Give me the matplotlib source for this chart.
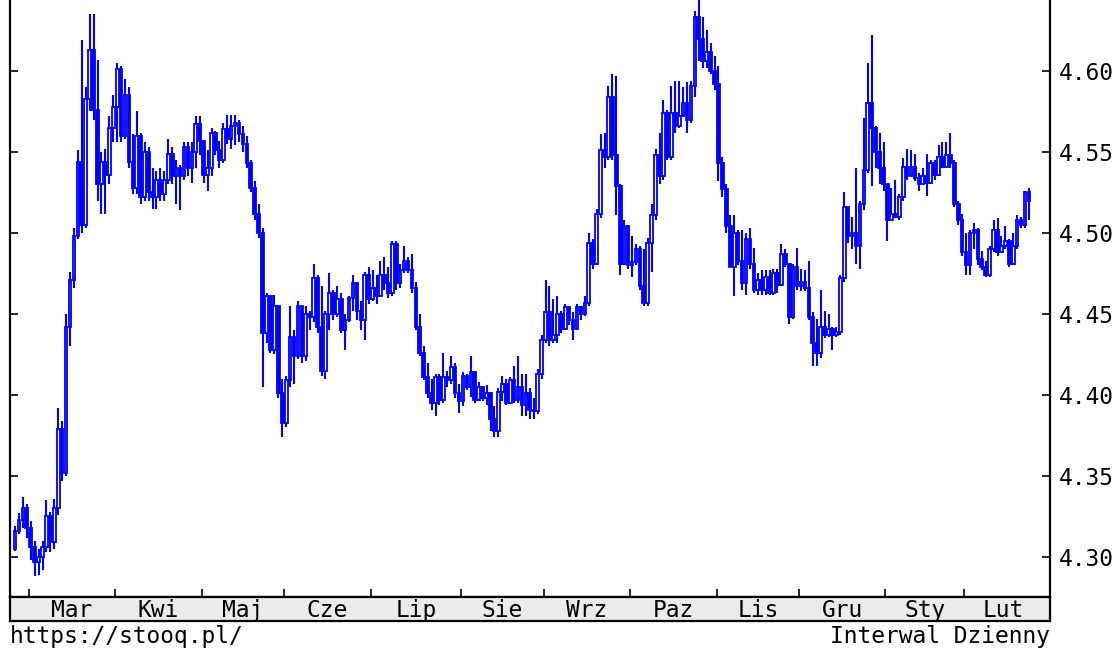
import numpy as np
import pandas as pd
import matplotlib
matplotlib.use("Agg")
import matplotlib.pyplot as plt

# ---------------------------
# Style
# ---------------------------
plt.rcParams.update({
    "font.family": ["DejaVu Sans Mono"],
    "font.size": 16.5,
})

BLUE = "#0000ff"
BAND = "#ebebeb"

# ---------------------------
# Data (daily candles)
# ---------------------------
FIRST_DAY = "2020-02-25"
LAST_DAY = "2021-02-23"
HOLIDAYS = ["2020-12-25", "2021-01-01"]
MONTHS = ["Mar", "Kwi", "Maj", "Cze", "Lip", "Sie", "Wrz", "Paz", "Lis", "Gru", "Sty", "Lut"]
YTICKS = [4.30, 4.35, 4.40, 4.45, 4.50, 4.55, 4.60]
FIRST_OPEN = 4.305

CLOSE = [
    4.316, 4.323, 4.330, 4.318,
    4.306, 4.297, 4.300, 4.306, 4.325, 4.309, 4.330, 4.379, 4.352, 4.442, 4.471,
    4.498, 4.544, 4.505, 4.583, 4.613, 4.576, 4.530, 4.544, 4.536, 4.565, 4.578,
    4.601, 4.560, 4.585, 4.544, 4.528, 4.560, 4.522, 4.550, 4.525, 4.522, 4.533,
    4.524, 4.533, 4.549, 4.535, 4.540, 4.535, 4.553, 4.540, 4.550, 4.567, 4.557,
    4.536, 4.540, 4.562, 4.551, 4.545, 4.564, 4.558, 4.566, 4.568, 4.561, 4.555,
    4.543, 4.528, 4.512, 4.500, 4.438, 4.461, 4.428, 4.455, 4.401, 4.383,
    4.409, 4.436, 4.424, 4.455, 4.424, 4.450, 4.448, 4.472, 4.442, 4.415, 4.450,
    4.463, 4.450, 4.459, 4.440, 4.446, 4.460, 4.469, 4.452, 4.446, 4.474, 4.459,
    4.466, 4.461, 4.474, 4.469, 4.463, 4.493, 4.469, 4.477, 4.483, 4.477, 4.466,
    4.442, 4.426, 4.411, 4.401, 4.395, 4.411, 4.397, 4.411, 4.409, 4.417, 4.401, 4.396,
    4.412, 4.405, 4.414, 4.397, 4.405, 4.398, 4.401, 4.385, 4.378, 4.402, 4.407,
    4.395, 4.409, 4.397, 4.405, 4.394, 4.401, 4.391, 4.390, 4.413, 4.434,
    4.451, 4.434, 4.437, 4.450, 4.441, 4.454, 4.446, 4.441, 4.454, 4.450, 4.457,
    4.494, 4.481, 4.512, 4.551, 4.547, 4.584, 4.548, 4.529, 4.481, 4.504, 4.480,
    4.482, 4.490, 4.467, 4.457, 4.494, 4.511, 4.548, 4.535, 4.574, 4.547, 4.574,
    4.566, 4.572, 4.580, 4.570, 4.591, 4.633, 4.620, 4.606, 4.612, 4.600, 4.592,
    4.543, 4.527, 4.504, 4.479, 4.500, 4.483, 4.469, 4.496, 4.481, 4.465, 4.471,
    4.465, 4.473, 4.463, 4.475, 4.468, 4.487, 4.481, 4.448, 4.479, 4.467,
    4.470, 4.466, 4.448, 4.432, 4.426, 4.442, 4.437, 4.441, 4.437, 4.439, 4.472,
    4.516, 4.498, 4.500, 4.492, 4.518, 4.539, 4.580, 4.565, 4.550, 4.540, 4.530,
    4.508, 4.512, 4.510, 4.522, 4.541, 4.535, 4.541, 4.534, 4.530, 4.535,
    4.531, 4.543, 4.536, 4.547, 4.541, 4.548, 4.543, 4.518, 4.508, 4.488,
    4.480, 4.500, 4.502, 4.484, 4.479, 4.474, 4.490, 4.502, 4.488, 4.492,
    4.495, 4.481, 4.492, 4.508, 4.505, 4.525, 4.520,
]

HIGH = [
    4.319, 4.327, 4.337, 4.333,
    4.322, 4.310, 4.305, 4.310, 4.335, 4.328, 4.336, 4.392, 4.384, 4.450, 4.476,
    4.503, 4.551, 4.619, 4.590, 4.635, 4.635, 4.607, 4.550, 4.552, 4.572, 4.585,
    4.605, 4.603, 4.595, 4.590, 4.561, 4.575, 4.562, 4.556, 4.553, 4.540, 4.538,
    4.540, 4.538, 4.558, 4.553, 4.545, 4.542, 4.556, 4.556, 4.556, 4.572, 4.572,
    4.556, 4.551, 4.565, 4.563, 4.557, 4.568, 4.573, 4.573, 4.573, 4.570, 4.566,
    4.560, 4.545, 4.532, 4.518, 4.503, 4.463, 4.458, 4.462, 4.442, 4.410,
    4.412, 4.455, 4.440, 4.458, 4.450, 4.455, 4.452, 4.481, 4.474, 4.467, 4.452,
    4.475, 4.465, 4.467, 4.463, 4.450, 4.461, 4.474, 4.469, 4.458, 4.476, 4.479,
    4.477, 4.474, 4.483, 4.485, 4.479, 4.495, 4.495, 4.481, 4.492, 4.485, 4.487,
    4.470, 4.450, 4.430, 4.420, 4.410, 4.413, 4.413, 4.426, 4.415, 4.424, 4.420, 4.407,
    4.414, 4.413, 4.424, 4.414, 4.408, 4.405, 4.406, 4.402, 4.393, 4.404, 4.412,
    4.410, 4.411, 4.418, 4.424, 4.413, 4.413, 4.404, 4.398, 4.416, 4.437,
    4.471, 4.467, 4.459, 4.461, 4.452, 4.456, 4.452, 4.451, 4.456, 4.455, 4.461,
    4.500, 4.496, 4.515, 4.561, 4.562, 4.591, 4.598, 4.597, 4.530, 4.508, 4.505,
    4.498, 4.493, 4.492, 4.490, 4.497, 4.518, 4.552, 4.562, 4.582, 4.576, 4.591,
    4.594, 4.594, 4.590, 4.593, 4.594, 4.637, 4.644, 4.633, 4.625, 4.617, 4.609,
    4.603, 4.547, 4.530, 4.511, 4.511, 4.502, 4.502, 4.500, 4.503, 4.491, 4.475,
    4.477, 4.477, 4.477, 4.478, 4.478, 4.493, 4.490, 4.481, 4.481, 4.491,
    4.478, 4.477, 4.483, 4.451, 4.447, 4.465, 4.452, 4.450, 4.442, 4.442, 4.474,
    4.525, 4.516, 4.510, 4.540, 4.520, 4.571, 4.605, 4.622, 4.566, 4.562, 4.556,
    4.530, 4.528, 4.533, 4.524, 4.546, 4.552, 4.551, 4.549, 4.537, 4.540,
    4.549, 4.545, 4.545, 4.554, 4.556, 4.556, 4.562, 4.545, 4.520, 4.512,
    4.500, 4.502, 4.506, 4.503, 4.489, 4.483, 4.492, 4.508, 4.509, 4.498,
    4.504, 4.496, 4.500, 4.511, 4.510, 4.526, 4.528,
]

LOW = [
    4.304, 4.314, 4.318, 4.312,
    4.298, 4.288, 4.289, 4.292, 4.303, 4.303, 4.305, 4.326, 4.347, 4.350, 4.430,
    4.466, 4.496, 4.500, 4.503, 4.575, 4.570, 4.520, 4.512, 4.512, 4.530, 4.556,
    4.556, 4.556, 4.558, 4.540, 4.524, 4.524, 4.518, 4.520, 4.520, 4.515, 4.515,
    4.520, 4.520, 4.530, 4.530, 4.518, 4.514, 4.533, 4.535, 4.531, 4.540, 4.548,
    4.531, 4.526, 4.535, 4.548, 4.540, 4.543, 4.555, 4.552, 4.554, 4.556, 4.550,
    4.540, 4.525, 4.508, 4.497, 4.405, 4.432, 4.426, 4.425, 4.398, 4.374,
    4.380, 4.405, 4.407, 4.422, 4.420, 4.421, 4.440, 4.445, 4.438, 4.412, 4.410,
    4.440, 4.446, 4.448, 4.438, 4.428, 4.445, 4.452, 4.446, 4.440, 4.434, 4.456,
    4.458, 4.456, 4.461, 4.465, 4.460, 4.461, 4.465, 4.466, 4.475, 4.475, 4.463,
    4.440, 4.424, 4.409, 4.398, 4.391, 4.387, 4.394, 4.395, 4.405, 4.407, 4.398, 4.389,
    4.393, 4.403, 4.399, 4.395, 4.396, 4.396, 4.394, 4.378, 4.374, 4.374, 4.396,
    4.394, 4.395, 4.395, 4.395, 4.387, 4.387, 4.385, 4.385, 4.388, 4.410,
    4.432, 4.430, 4.432, 4.432, 4.438, 4.440, 4.443, 4.434, 4.442, 4.446, 4.449,
    4.455, 4.478, 4.480, 4.509, 4.540, 4.545, 4.545, 4.511, 4.474, 4.480, 4.478,
    4.473, 4.480, 4.465, 4.455, 4.455, 4.476, 4.508, 4.530, 4.533, 4.545, 4.545,
    4.562, 4.565, 4.572, 4.562, 4.568, 4.584, 4.606, 4.602, 4.602, 4.598, 4.588,
    4.532, 4.522, 4.500, 4.479, 4.461, 4.480, 4.465, 4.462, 4.478, 4.463, 4.462,
    4.462, 4.462, 4.462, 4.462, 4.463, 4.467, 4.479, 4.444, 4.447, 4.465,
    4.464, 4.464, 4.446, 4.418, 4.418, 4.423, 4.435, 4.436, 4.428, 4.436, 4.437,
    4.470, 4.494, 4.490, 4.481, 4.478, 4.514, 4.537, 4.529, 4.540, 4.530, 4.526,
    4.495, 4.508, 4.509, 4.508, 4.520, 4.533, 4.535, 4.532, 4.526, 4.532,
    4.523, 4.530, 4.533, 4.535, 4.540, 4.546, 4.540, 4.516, 4.505, 4.486,
    4.474, 4.474, 4.490, 4.480, 4.477, 4.473, 4.473, 4.488, 4.486, 4.488,
    4.490, 4.479, 4.480, 4.490, 4.503, 4.503, 4.508,
]


def trading_days():
    days = pd.bdate_range(FIRST_DAY, LAST_DAY)
    return days[~days.isin(pd.to_datetime(HOLIDAYS))]


def main():
    days = trading_days()
    c = np.array(CLOSE)
    h = np.array(HIGH)
    lo = np.array(LOW)
    n = min(len(days), len(c))
    days, c, h, lo = days[:n], c[:n], h[:n], lo[:n]
    o = np.r_[FIRST_OPEN, c[:-1]]
    x = np.arange(n)

    # month boundaries on the trading-day axis
    per = days.to_period("M")
    starts = [i for i in range(1, n) if per[i] != per[i - 1]]
    centers = []
    for k, s in enumerate(starts):
        if k + 1 < len(starts):
            e = starts[k + 1]
        else:
            full = pd.bdate_range(per[s].start_time, per[s].end_time)
            e = s + len(full)
        centers.append((s + e) / 2 - 0.5)

    W, H = 1117, 649
    fig = plt.figure(figsize=(W / 100, H / 100), dpi=100)
    fig.patch.set_facecolor("white")

    left, right = 10, 1050
    plot_bottom, band_bottom = 597, 621
    ax = fig.add_axes([left / W, 1 - plot_bottom / H, (right - left) / W, plot_bottom / H])
    band = fig.add_axes([left / W, 1 - band_bottom / H, (right - left) / W,
                         (band_bottom - plot_bottom) / H])

    # candles
    up = c >= o
    bottom = np.minimum(o, c)
    height = np.maximum(np.abs(c - o), 0.0008)
    ax.vlines(x, lo, h, color=BLUE, linewidth=1.5, zorder=2)
    ax.bar(x[up], height[up], bottom=bottom[up], width=0.68,
           facecolor="white", edgecolor=BLUE, linewidth=1.3, zorder=3)
    ax.bar(x[~up], height[~up], bottom=bottom[~up], width=0.68,
           facecolor=BLUE, edgecolor=BLUE, linewidth=1.3, zorder=3)

    px = 3.93
    xlim = (-(15 - left) / px, (n - 1) + (right - (15 + px * (n - 1))) / px)
    ax.set_xlim(xlim)
    ax.set_ylim(4.2753, 4.6438)

    ax.set_yticks(YTICKS)
    ax.set_yticklabels([f"{v:.2f}" for v in YTICKS])
    ax.tick_params(axis="y", direction="in", left=True, right=True,
                   labelleft=False, labelright=True, length=6, width=1.2,
                   pad=6, labelsize=16.5)
    ax.set_xticks(np.array(starts) - 0.5)
    ax.set_xticklabels([])
    ax.tick_params(axis="x", direction="in", bottom=True, length=6, width=1.2)

    ax.spines["top"].set_visible(False)
    for side in ["left", "right", "bottom"]:
        ax.spines[side].set_color("black")
        ax.spines[side].set_linewidth(1.6)
    ax.grid(False)

    # month band
    band.set_facecolor(BAND)
    band.set_xlim(xlim)
    band.set_ylim(0, 1)
    band.set_xticks([])
    band.set_yticks([])
    for side in band.spines:
        band.spines[side].set_color("black")
        band.spines[side].set_linewidth(1.6)
    for name, cx in zip(MONTHS, centers):
        band.text(cx, 0.45, name, ha="center", va="center", fontsize=16.5)

    fig.text(left / W, 1 - 637 / H, "https://stooq.pl/", ha="left", va="center", fontsize=16.5)
    fig.text(right / W, 1 - 637 / H, "Interwal Dzienny", ha="right", va="center", fontsize=16.5)

    fig.savefig("out.png", dpi=100, facecolor="white")


if __name__ == "__main__":
    main()
